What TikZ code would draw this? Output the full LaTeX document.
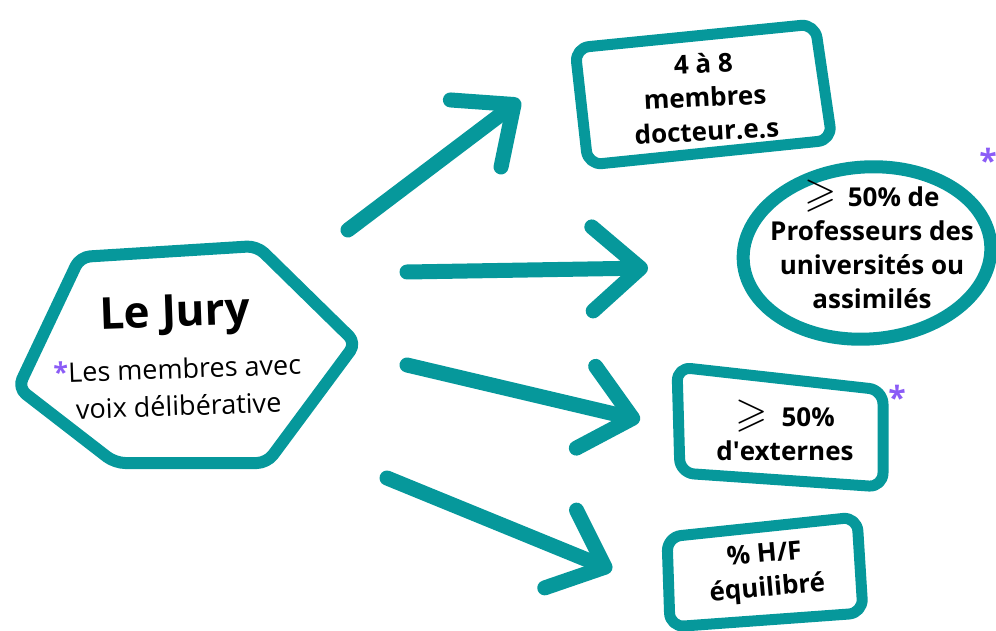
\documentclass[tikz,border=0pt]{standalone}
\usepackage{fontspec}
\usepackage{amssymb}
\usepackage{graphicx}
\setmainfont{Open Sans}
\usetikzlibrary{arrows.meta, calc}
\definecolor{teal_set}{RGB}{6,152,155}
\definecolor{purple_set}{RGB}{139,92,246}
\tikzset{>=Stealth,
  frame/.style={draw=teal_set, line width=11pt, line join=round, rounded corners=14pt},
  big arrow/.style={teal_set, line width=15pt, line cap=round,
    -{Straight Barb[length=48pt, width=84pt, round]}},
  box text/.style={font=\bfseries\fontsize{26}{34}\selectfont, align=center},
  star/.style={purple_set, font=\bfseries\fontsize{32}{32}\selectfont}
}
\newcommand{\geqsl}{\scalebox{1.6}{$\geqslant$}}

\begin{document}
\begin{tikzpicture}[x=1pt, y=-1pt]
\useasboundingbox (0,0) rectangle (996,631);

% The jury, in its hexagon
\draw[frame, line width=12pt, rounded corners=10pt]
  (80,257) -- (257,246) -- (356,343) -- (267,463) -- (115,463) -- (18,388) -- cycle;
\node[rotate=2, font=\bfseries\fontsize{44}{44}\selectfont] (jury) at (175,316) {Le Jury};
\node[rotate=2, align=center, font=\fontsize{27}{37}\selectfont] (voix) at (178,387)
  {\textcolor{purple_set}{\textbf{*}}Les membres avec\\voix délibérative};

% The four conditions
\draw[frame] (575,48) -- (815,24) -- (832,140) -- (588,165) -- cycle;
\node[box text, rotate=3] (doc) at (705,97) {4 à 8\\membres\\docteur.e.s};

\draw[teal_set, line width=13pt, rotate around={4:(867,253)}]
  (867,253) ellipse [x radius=124, y radius=86];
\node[box text] (prof) at (872,244) {\geqsl{}\, 50\% de\\Professeurs des\\universités ou\\assimilés};
\node[star] (star prof) at (988,160) {*};

\draw[frame] (677,367) -- (883,390) -- (883,487) -- (680,473) -- cycle;
\node[box text] (ext) at (785,430) {\geqsl{}\; 50\%\\d\textquotesingle externes};
\node[star] (star ext) at (897,397) {*};

\draw[frame] (667,537) -- (857,517) -- (863,613) -- (670,627) -- cycle;
\node[box text, rotate=5] (hf) at (766,573) {\% H/F\\équilibré};

% Arrows from the jury to each condition
\coordinate (out doc) at (348,230);  \coordinate (in doc) at (520,100);
\coordinate (out prof) at (407,272); \coordinate (in prof) at (648,268);
\coordinate (out ext) at (407,365);  \coordinate (in ext) at (640,420);
\coordinate (out hf) at (387,478);   \coordinate (in hf) at (612,570);
\foreach \c in {doc, prof, ext, hf}{
  \draw[big arrow] (out \c) -- (in \c);
}

\end{tikzpicture}
\end{document}
